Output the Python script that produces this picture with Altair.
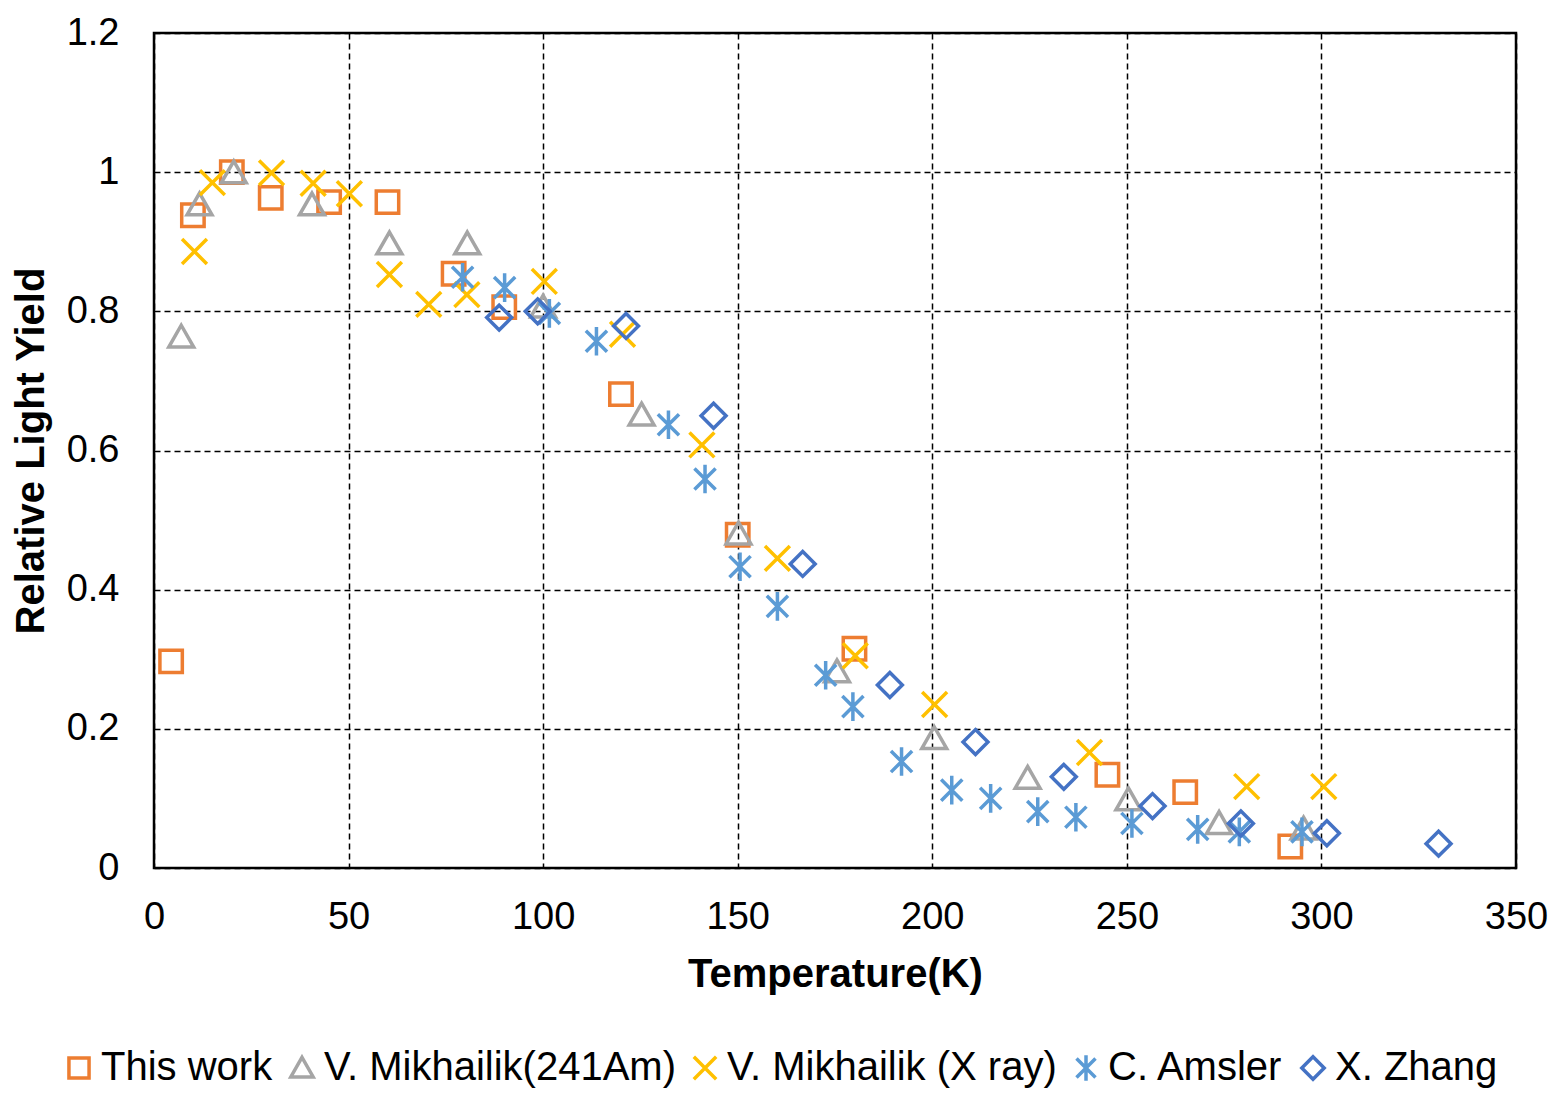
import altair as alt
import pandas as pd

series_names = ["This work", "V. Mikhailik(241Am)", "V. Mikhailik (X ray)", "C. Amsler", "X. Zhang"]
series_colors = ["#ED7D31", "#A5A5A5", "#FFC000", "#5B9BD5", "#4472C4"]

this_T = [4.4, 10, 20, 30, 45, 60, 77, 90, 120, 150, 180, 245, 265, 292]
this_Y = [0.297, 0.938, 1.0, 0.963, 0.957, 0.957, 0.854, 0.806, 0.681, 0.479, 0.315, 0.134, 0.109, 0.031]

am_T = [7, 11.7, 20.5, 40.6, 60.5, 80.5, 100, 125.3, 150.2, 175.5, 200.5, 224.5, 250.4, 273.7, 295.4]
am_Y = [0.763, 0.953, 0.999, 0.953, 0.897, 0.897, 0.806, 0.651, 0.48, 0.282, 0.186, 0.129, 0.098, 0.064, 0.056]

xr_T = [10.4, 15, 30.2, 40.9, 50.2, 60.5, 70.6, 80.4, 100.3, 120.4, 140.8, 160.2, 180.2, 200.6, 240.4, 280.8, 300.6]
xr_Y = [0.886, 0.985, 0.999, 0.984, 0.969, 0.853, 0.81, 0.824, 0.843, 0.767, 0.608, 0.445, 0.305, 0.235, 0.166, 0.117, 0.117]

ams_T = [79.3, 90.1, 101.6, 113.7, 132.2, 141.6, 150.6, 160.2, 172.6, 179.6, 192.1, 205, 215, 227.1, 236.9, 251.3, 268.2, 278.9, 295]
ams_Y = [0.849, 0.834, 0.797, 0.757, 0.637, 0.559, 0.433, 0.376, 0.277, 0.232, 0.153, 0.112, 0.1, 0.081, 0.073, 0.064, 0.0555, 0.052, 0.052]

zh_T = [88.7, 98.6, 121.3, 143.8, 166.7, 189.1, 211.1, 233.8, 256.6, 279.3, 301.4, 330.1]
zh_Y = [0.791, 0.8, 0.779, 0.65, 0.437, 0.263, 0.181, 0.131, 0.089, 0.064, 0.05, 0.035]

x_ticks = [0, 50, 100, 150, 200, 250, 300, 350]
y_ticks = [0, 0.2, 0.4, 0.6, 0.8, 1.0, 1.2]

shape_paths = [
    "M-0.9,-0.9L0.9,-0.9L0.9,0.9L-0.9,0.9Z",
    "M0,-0.95L1,0.8L-1,0.8Z",
    "M-1,-1L1,1M-1,1L1,-1",
    "M-0.85,-0.85L0.85,0.85M-0.85,0.85L0.85,-0.85M0,-1.15L0,1.15",
    "M0,-1L1,0L0,1L-1,0Z",
]

rows = []
for name, ts, ys in zip(series_names, [this_T, am_T, xr_T, ams_T, zh_T],
                        [this_Y, am_Y, xr_Y, ams_Y, zh_Y]):
    for t, y in zip(ts, ys):
        rows.append({"series": name, "T": t, "Y": y})
df = pd.DataFrame(rows)

FONT = "Liberation Sans"
SYM = 620
SW = 3.5

legend = alt.Legend(
    title=None, orient="none", direction="horizontal", columns=5,
    legendX=-95, legendY=1015, labelFontSize=40, labelFont=FONT, labelColor="black",
    symbolSize=500, symbolStrokeWidth=SW, labelOffset=2, columnPadding=9, padding=0,
    labelLimit=0,
)

chart = alt.Chart(df).mark_point(filled=False, strokeWidth=SW, size=SYM, opacity=1).encode(
    x=alt.X("T:Q", scale=alt.Scale(domain=[0, 350], nice=False, zero=False),
            axis=alt.Axis(values=x_ticks, title="Temperature(K)", format="d",
                          labelPadding=30, labelFlush=False, titleX=681, titleY=118,
                          titleBaseline="alphabetic", titleAlign="center")),
    y=alt.Y("Y:Q", scale=alt.Scale(domain=[0, 1.2], nice=False),
            axis=alt.Axis(values=y_ticks, title="Relative Light Yield", format="~g",
                          labelPadding=35, labelFlush=False, titleX=-111, titleY=417.5, titleAngle=-90,
                          titleBaseline="alphabetic", titleAlign="center")),
    color=alt.Color("series:N", scale=alt.Scale(domain=series_names, range=series_colors), legend=legend),
    shape=alt.Shape("series:N", scale=alt.Scale(domain=series_names, range=shape_paths), legend=legend),
).properties(
    width=1362, height=835,
    autosize=alt.AutoSizeParams(type="none"),
    padding={"left": 146, "top": 25, "right": 35, "bottom": 220},
).configure_view(
    stroke="black", strokeWidth=2.5
).configure_axis(
    grid=True, gridColor="black", gridDash=[6, 4], gridWidth=1.5, gridOpacity=1,
    ticks=False, domain=False,
    labelFont=FONT, labelFontSize=38, labelColor="black",
    titleFont=FONT, titleFontSize=40, titleFontWeight="bold", titleColor="black",
)

chart.save("out.html", embed_options={"renderer": "svg", "actions": False})
